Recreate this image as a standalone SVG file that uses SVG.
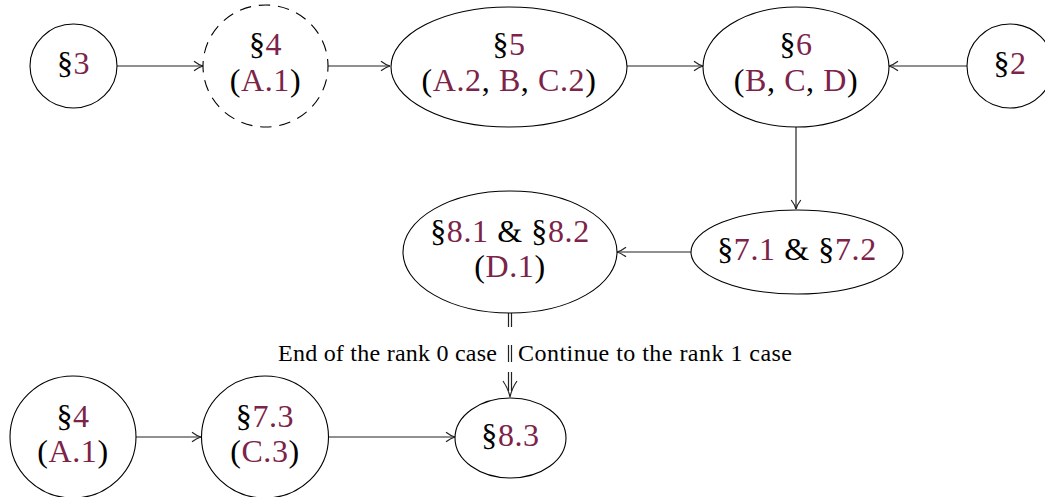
<svg xmlns="http://www.w3.org/2000/svg" width="1045" height="497" viewBox="0 0 1045 497">
<style>
.n{fill:#fff;stroke:#000;stroke-width:1.1}
.d{stroke-dasharray:11.5 7.8;stroke-dashoffset:5.75}
.t{font-family:"Liberation Serif","Times New Roman",serif;font-size:32px;letter-spacing:0.6px;fill:#000;text-anchor:middle}
.l{font-family:"Liberation Serif","Times New Roman",serif;font-size:24px;fill:#000}
.p{fill:#7b2349}
.e{fill:none;stroke:#222;stroke-width:1.2}
</style>
<defs>
<marker id="ar" markerUnits="userSpaceOnUse" markerWidth="20" markerHeight="20" refX="0" refY="0" viewBox="-10 -10 20 20" orient="auto" overflow="visible">
<path d="M-9,-4.8 Q-4,-1 0,0 Q-4,1 -9,4.8" fill="none" stroke="#222" stroke-width="1.2"/>
</marker>
</defs>
<g id="connectors">
<path class="e" d="M117,66 H203" marker-end="url(#ar)"/>
<path class="e" d="M328,66 H390" marker-end="url(#ar)"/>
<path class="e" d="M627,66 H703" marker-end="url(#ar)"/>
<path class="e" d="M967,66 H889" marker-end="url(#ar)"/>
<path class="e" d="M796,127 V209" marker-end="url(#ar)"/>
<path class="e" d="M691,252 H617" marker-end="url(#ar)"/>
<path class="e" d="M136,437 H201" marker-end="url(#ar)"/>
<path class="e" d="M329,437 H455" marker-end="url(#ar)"/>
<g id="double-edge">
<path class="e" d="M508.5,313 V327 M511.5,313 V327 M508.5,345 V362 M511.5,345 V362 M508.5,372 V391 M511.5,372 V391"/>
<path class="e" d="M503,381 Q508,388 510,397 Q512,388 517,381"/>
</g>
</g>
<g id="label-left"><text class="l" x="497" y="361" text-anchor="end" textLength="219" lengthAdjust="spacing">End of the rank 0 case</text></g>
<g id="label-right"><text class="l" x="518" y="361" textLength="274" lengthAdjust="spacing">Continue to the rank 1 case</text></g>
<g id="n3">
<ellipse class="n" cx="73.5" cy="66" rx="43.5" ry="42"/>
<text class="t" x="73.5" y="74">§<tspan class="p">3</tspan></text>
</g>
<g id="n4">
<ellipse class="n d" cx="265.5" cy="66" rx="62.5" ry="61"/>
<text class="t" x="265.5" y="55">§<tspan class="p">4</tspan></text>
<text class="t" x="265.5" y="90.5">(<tspan class="p">A.1</tspan>)</text>
</g>
<g id="n5">
<ellipse class="n" cx="509" cy="67" rx="118" ry="60"/>
<text class="t" x="509" y="55">§<tspan class="p">5</tspan></text>
<text class="t" x="509" y="90.5">(<tspan class="p">A.2</tspan>, <tspan class="p">B</tspan>, <tspan class="p">C.2</tspan>)</text>
</g>
<g id="n6">
<ellipse class="n" cx="796" cy="67" rx="93" ry="60"/>
<text class="t" x="796" y="55">§<tspan class="p">6</tspan></text>
<text class="t" x="796" y="90.5">(<tspan class="p">B</tspan>, <tspan class="p">C</tspan>, <tspan class="p">D</tspan>)</text>
</g>
<g id="n2">
<ellipse class="n" cx="1010" cy="66" rx="43" ry="42"/>
<text class="t" x="1010" y="74">§<tspan class="p">2</tspan></text>
</g>
<g id="n71">
<ellipse class="n" cx="797" cy="252" rx="106" ry="42"/>
<text class="t" x="797" y="260">§<tspan class="p">7.1</tspan> &amp; §<tspan class="p">7.2</tspan></text>
</g>
<g id="n81">
<ellipse class="n" cx="510" cy="252" rx="107" ry="61"/>
<text class="t" x="510" y="242">§<tspan class="p">8.1</tspan> &amp; §<tspan class="p">8.2</tspan></text>
<text class="t" x="510" y="277">(<tspan class="p">D.1</tspan>)</text>
</g>
<g id="n83">
<ellipse class="n" cx="510.5" cy="438" rx="55.5" ry="40"/>
<text class="t" x="510.5" y="446">§<tspan class="p">8.3</tspan></text>
</g>
<g id="n4b">
<ellipse class="n" cx="73" cy="437" rx="63" ry="61"/>
<text class="t" x="73" y="427">§<tspan class="p">4</tspan></text>
<text class="t" x="73" y="462">(<tspan class="p">A.1</tspan>)</text>
</g>
<g id="n73">
<ellipse class="n" cx="265" cy="437" rx="63.5" ry="61"/>
<text class="t" x="265" y="427">§<tspan class="p">7.3</tspan></text>
<text class="t" x="265" y="462">(<tspan class="p">C.3</tspan>)</text>
</g>
</svg>
